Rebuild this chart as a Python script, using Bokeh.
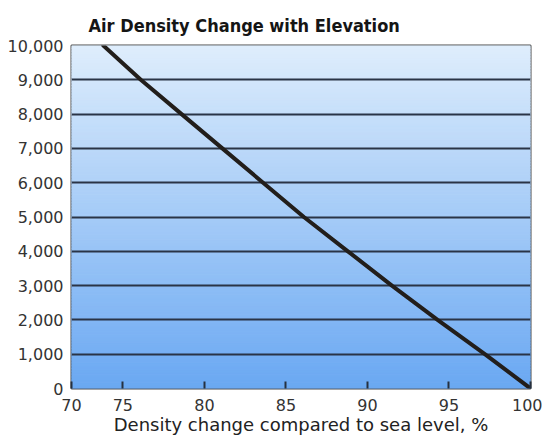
import numpy as np
from bokeh.plotting import figure
from bokeh.models import Range1d, FixedTicker, NumeralTickFormatter
from bokeh.embed import file_html
from bokeh.resources import INLINE

# ---- data ----
elevation_ft = [0, 1000, 2000, 3000, 4000, 5000, 6000, 7000, 8000, 9000, 10000]
density_pct = [100.0, 97.2, 94.3, 91.5, 88.8, 86.1, 83.6, 81.1, 78.6, 76.1, 73.8]
x_tick_values = [75, 80, 85, 90, 95, 100]
y_tick_values = [0, 1000, 2000, 3000, 4000, 5000, 6000, 7000, 8000, 9000, 10000]
x_left_edge = 71.85          # the frame's left edge, which the reference labels "70"
x_left_label = "70"
x_right_edge = 100
y_top = 10000
title_text = "Air Density Change with Elevation"
x_label = "Density change compared to sea level, %"

# ---- style ----
grad_bottom = np.array([0x6a, 0xa8, 0xf2])
grad_top = np.array([0xde, 0xed, 0xfc])
LABEL_FONT = "'DejaVu Sans', sans-serif"
TITLE_FONT = "'DejaVu Sans Condensed', 'DejaVu Sans', sans-serif"

p = figure(width=542, height=438, output_backend="svg", toolbar_location=None,
           x_range=Range1d(x_left_edge, x_right_edge), y_range=Range1d(0, y_top),
           min_border_left=71, min_border_right=12, min_border_top=45,
           min_border_bottom=50, title=title_text)
p.background_fill_color = "white"
p.border_fill_color = "white"
p.outline_line_color = "#4a4a4a"
p.outline_line_width = 2

p.title.text_font = TITLE_FONT
p.title.text_font_size = "18px"
p.title.text_font_style = "bold"
p.title.text_color = "#151515"
p.title.align = "left"
p.title.offset = 17
p.title.standoff = 20

# background gradient (decoration, derived from the axis ranges)
n_bands = 120
edges = np.linspace(0, y_top, n_bands + 1)
t = (edges[:-1] + edges[1:]) / 2 / y_top
cols = ["#%02x%02x%02x" % tuple(int(round(v)) for v in grad_bottom + (grad_top - grad_bottom) * ti) for ti in t]
p.quad(left=x_left_edge, right=x_right_edge, bottom=edges[:-1], top=edges[1:],
       fill_color=cols, line_color=cols, line_width=1, level="image")

# grid
p.xgrid.visible = False
p.ygrid.ticker = FixedTicker(ticks=y_tick_values)
p.ygrid.grid_line_color = "#2a3446"
p.ygrid.grid_line_width = 2
p.ygrid.grid_line_alpha = 1

# x axis
xa = p.xaxis[0]
xa.ticker = FixedTicker(ticks=[x_left_edge] + x_tick_values)
xa.major_label_overrides = {x_left_edge: x_left_label}
xa.axis_line_color = None
xa.major_tick_in = 7
xa.major_tick_out = 0
xa.major_tick_line_color = "#25303f"
xa.major_tick_line_width = 2
xa.minor_tick_line_color = None
xa.major_label_standoff = 10
xa.major_label_text_font = LABEL_FONT
xa.major_label_text_font_size = "16px"
xa.major_label_text_color = "#333333"
xa.axis_label = x_label
xa.axis_label_standoff = 0
xa.axis_label_text_font = LABEL_FONT
xa.axis_label_text_font_size = "18px"
xa.axis_label_text_font_style = "normal"
xa.axis_label_text_color = "#222222"

# y axis
ya = p.yaxis[0]
ya.ticker = FixedTicker(ticks=y_tick_values)
ya.formatter = NumeralTickFormatter(format="0,0")
ya.axis_line_color = None
ya.major_tick_in = 0
ya.major_tick_out = 0
ya.minor_tick_line_color = None
ya.major_label_standoff = 8
ya.major_label_text_font = LABEL_FONT
ya.major_label_text_font_size = "16px"
ya.major_label_text_color = "#333333"

# the curve
p.line(density_pct, elevation_ft, line_color="#221e1b", line_width=4, line_cap="round")

open("out.html", "w").write(file_html(p, INLINE))
